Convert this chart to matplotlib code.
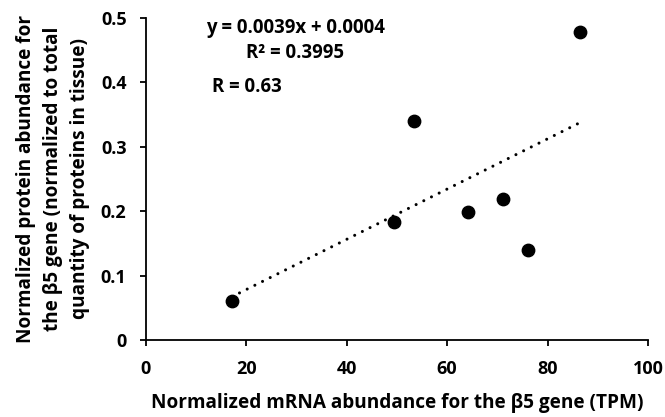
import numpy as np
import matplotlib
matplotlib.use("Agg")
import matplotlib.pyplot as plt

# mRNA (TPM) vs protein abundance for the b5 gene
mrna_tpm = [17.1, 49.5, 53.4, 64.1, 71.1, 76.2, 86.5]
protein_abundance = [0.060, 0.183, 0.340, 0.198, 0.219, 0.139, 0.479]

# trendline as printed on the chart
slope = 0.0039
intercept = 0.0004
r_value = 0.63
r_squared = 0.3995

x_ticks = [0, 20, 40, 60, 80, 100]
y_ticks = [0, 0.1, 0.2, 0.3, 0.4, 0.5]

plt.rcParams['font.family'] = ['Open Sans', 'DejaVu Sans']
plt.rcParams['font.weight'] = 'bold'

fig = plt.figure(figsize=(6.65, 4.17), dpi=100)
ax = fig.add_axes([0.2195, 0.1847, 0.7549, 0.7721])

# trendline over the data range
x_fit = np.array([min(mrna_tpm), max(mrna_tpm)])
ax.plot(x_fit, slope * x_fit + intercept, color='black', linewidth=2.2,
        linestyle=(0, (0.01, 2.8)), dash_capstyle='round', zorder=2)

ax.scatter(mrna_tpm, protein_abundance, s=80, color='black', zorder=3)

ax.set_xlim(0, 100)
ax.set_ylim(0, 0.5)
ax.set_xticks(x_ticks)
ax.set_yticks(y_ticks)
ax.set_xticklabels([str(t) for t in x_ticks])
ax.set_yticklabels(['0', '0.1', '0.2', '0.3', '0.4', '0.5'])

for side in ('top', 'right'):
    ax.spines[side].set_visible(False)
for side in ('left', 'bottom'):
    ax.spines[side].set_linewidth(1.3)
ax.tick_params(axis='both', direction='out', length=4, width=1.3,
               labelsize=13)
ax.tick_params(axis='x', pad=10.5)
ax.tick_params(axis='y', pad=10)

ax.set_xlabel('Normalized mRNA abundance for the \u03b25 gene (TPM)',
              fontsize=13.7, fontweight='bold', labelpad=10.5)
ax.set_ylabel('Normalized protein abundance for\nthe \u03b25 gene (normalized to total\nquantity of proteins in tissue)',
              fontsize=13.7, fontweight='bold', labelpad=8, linespacing=1.45)

ax.text(0.297, 0.930, f'y = {slope}x + {intercept}\nR\u00b2 = {r_squared}',
        transform=ax.transAxes, ha='center', va='center', fontsize=13.4,
        fontweight='bold', linespacing=1.3)
ax.text(0.1315, 0.786, f'R = {r_value}', transform=ax.transAxes,
        ha='left', va='center', fontsize=13.4, fontweight='bold')

fig.savefig('out.png', dpi=100)
